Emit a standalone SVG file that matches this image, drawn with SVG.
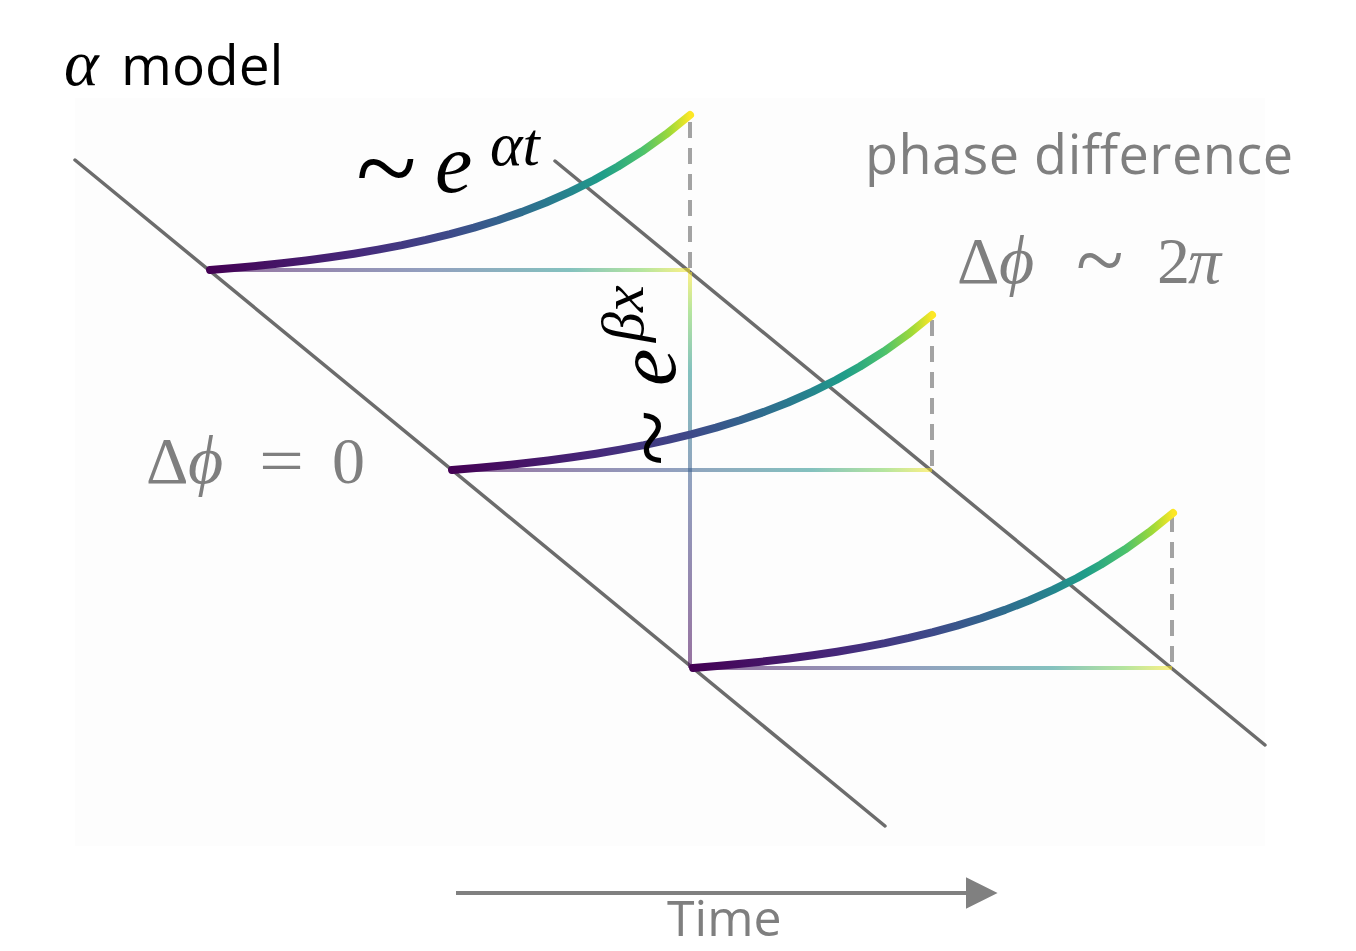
<svg xmlns="http://www.w3.org/2000/svg" xmlns:xlink="http://www.w3.org/1999/xlink" width="1356" height="951" viewBox="0 0 1356 951">
  <style>
    .diag { stroke: #6c6c6c; stroke-width: 3.5; fill: none; stroke-linecap: round; }
    .dash { stroke: #a3a3a3; stroke-width: 4; stroke-dasharray: 16 10; fill: none; }
    .curve { fill: none; stroke: url(#curveGrad); stroke-width: 8; stroke-linecap: round; stroke-linejoin: round; }
    .hbar { fill: url(#hGrad); opacity: 0.55; }
    .gray { fill: #7f7f7f; }
    .serif { font-family: "Liberation Serif", "DejaVu Serif", serif; }
    .sans { font-family: "Open Sans", "Liberation Sans", sans-serif; }
    .it { font-style: italic; }
  </style>
  <defs>
    <linearGradient id="curveGrad" x1="0" y1="0" x2="1" y2="0">
      <stop offset="0" stop-color="#440154"/>
      <stop offset="0.3" stop-color="#46287a"/>
      <stop offset="0.5" stop-color="#3e4a89"/>
      <stop offset="0.63" stop-color="#31688e"/>
      <stop offset="0.74" stop-color="#26828e"/>
      <stop offset="0.82" stop-color="#1f9e89"/>
      <stop offset="0.9" stop-color="#4ac16d"/>
      <stop offset="0.96" stop-color="#a2da37"/>
      <stop offset="1" stop-color="#fde725"/>
    </linearGradient>
    <linearGradient id="hGrad" x1="0" y1="0" x2="1" y2="0">
      <stop offset="0" stop-color="#440154"/>
      <stop offset="0.45" stop-color="#3b528b"/>
      <stop offset="0.75" stop-color="#21918c"/>
      <stop offset="0.9" stop-color="#7ad151"/>
      <stop offset="1" stop-color="#fde725"/>
    </linearGradient>
    <linearGradient id="vGrad" x1="0" y1="1" x2="0" y2="0">
      <stop offset="0" stop-color="#440154"/>
      <stop offset="0.45" stop-color="#3b528b"/>
      <stop offset="0.75" stop-color="#21918c"/>
      <stop offset="0.9" stop-color="#7ad151"/>
      <stop offset="1" stop-color="#fde725"/>
    </linearGradient>
    <path id="expCurve" d="M0,0 L24,-2.0 L48,-4.2 L72,-6.7 L96,-9.5 L120,-12.7 L144,-16.3 L168,-20.4 L192,-24.9 L216,-30.1 L240,-35.9 L264,-42.4 L288,-49.8 L312,-58.1 L336,-67.5 L360,-78.1 L384,-90.0 L408,-103.5 L432,-118.6 L456,-135.7 L480,-155"/>
    <marker id="arrowHead" viewBox="0 0 10 10" refX="2" refY="5" markerWidth="8" markerHeight="8" markerUnits="strokeWidth" orient="auto">
      <path d="M0,0 L10,5 L0,10 Z" fill="#808080"/>
    </marker>
  </defs>

  <rect id="background" x="75" y="98" width="1190" height="748" fill="#fdfdfd"/>

  <g id="title">
    <text x="64" y="85" font-size="66" class="serif it" fill="#000">α</text>
    <text x="121" y="85" font-size="55" class="sans" fill="#000">model</text>
  </g>

  <g id="connectors">
    <line id="front1" class="diag" x1="75" y1="160" x2="885" y2="826"/>
    <line id="front2" class="diag" x1="555" y1="161" x2="1265" y2="745"/>
    <rect class="hbar" x="210" y="268" width="480" height="4"/>
    <rect class="hbar" x="452" y="468" width="480" height="4"/>
    <rect class="hbar" x="693" y="666" width="479" height="4"/>
    <rect id="vbar" x="688" y="272" width="4" height="396" fill="url(#vGrad)" opacity="0.55"/>
    <line class="dash" x1="690" y1="122" x2="690" y2="268"/>
    <line class="dash" x1="932" y1="320" x2="932" y2="468"/>
    <line class="dash" x1="1172" y1="516" x2="1172" y2="666"/>
    <line id="timeArrow" x1="456" y1="893" x2="972" y2="893" stroke="#808080" stroke-width="4" marker-end="url(#arrowHead)"/>
  </g>

  <g id="curve1"><use xlink:href="#expCurve" href="#expCurve" class="curve" transform="translate(210,270)"/></g>
  <g id="curve2"><use xlink:href="#expCurve" href="#expCurve" class="curve" transform="translate(452,470)"/></g>
  <g id="curve3"><use xlink:href="#expCurve" href="#expCurve" class="curve" transform="translate(693,668)"/></g>

  <g id="label-exp-alpha" class="serif" fill="#000">
    <text x="356" y="206" font-size="112">~</text>
    <text x="435" y="192" font-size="84" class="it">e</text>
    <text x="490" y="165" font-size="62" class="it">αt</text>
  </g>

  <g id="label-exp-beta" class="serif" fill="#000" transform="translate(675,470) rotate(-90)">
    <text x="4" y="12" font-size="104">~</text>
    <text x="84" y="0" font-size="84" class="it">e</text>
    <text x="128" y="-32" font-size="60" class="it">βx</text>
  </g>

  <g id="label-phase-diff">
    <text x="865" y="174" font-size="54" class="sans gray" textLength="428" lengthAdjust="spacing">phase difference</text>
  </g>

  <g id="label-dphi-2pi" class="serif gray">
    <text x="957" y="283" font-size="66">Δ</text>
    <text x="999" y="283" font-size="68" class="it">ϕ</text>
    <text x="1076" y="290" font-size="88">~</text>
    <text x="1157" y="283" font-size="66">2</text>
    <text x="1188" y="283" font-size="66" class="it">π</text>
  </g>

  <g id="label-dphi-0" class="serif gray">
    <text x="146" y="483" font-size="66">Δ</text>
    <text x="188" y="483" font-size="68" class="it">ϕ</text>
    <text x="259" y="483" font-size="66" textLength="45" lengthAdjust="spacingAndGlyphs">=</text>
    <text x="332" y="483" font-size="66">0</text>
  </g>

  <g id="label-time">
    <text x="667" y="936" font-size="50" class="sans gray">Time</text>
  </g>
</svg>
